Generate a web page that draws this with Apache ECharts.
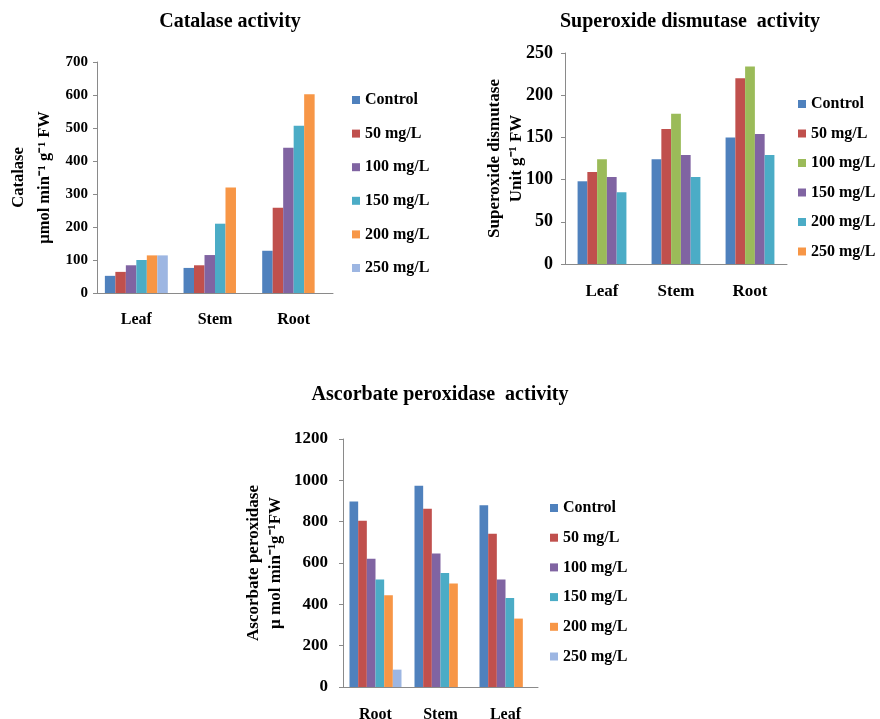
<!DOCTYPE html>
<html>
<head>
<meta charset="utf-8">
<script src="https://cdn.jsdelivr.net/npm/echarts@6.0.0/dist/echarts.min.js"></script>
<style>
  html, body { margin: 0; padding: 0; background: #fff; }
  .chart { position: absolute; left: 0; top: 0; width: 880px; height: 719px; }
</style>
</head>
<body>
<div id="catalase" class="chart"></div>
<div id="sod" class="chart"></div>
<div id="apx" class="chart"></div>
<script>
// data
const seriesNames = ['Control', '50 mg/L', '100 mg/L', '150 mg/L', '200 mg/L', '250 mg/L'];

const catalaseCategories = ['Leaf', 'Stem', 'Root'];
const catalaseControl = [52, 76, 128];
const catalase50 = [64, 84, 258];
const catalase100 = [84, 115, 440];
const catalase150 = [100, 210, 507];
const catalase200 = [114, 320, 602];
const catalase250 = [114, '-', '-'];
const catalaseTicks = { min: 0, max: 700, interval: 100 };

const sodCategories = ['Leaf', 'Stem', 'Root'];
const sodControl = [98, 124, 150];
const sod50 = [109, 160, 220];
const sod100 = [124, 178, 234];
const sod150 = [103, 129, 154];
const sod200 = [85, 103, 129];
const sodTicks = { min: 0, max: 250, interval: 50 };

const apxCategories = ['Root', 'Stem', 'Leaf'];
const apxControl = [898, 974, 880];
const apx50 = [804, 862, 741];
const apx100 = [620, 646, 520];
const apx150 = [520, 552, 431];
const apx200 = [444, 501, 331];
const apx250 = [84, '-', '-'];
const apxTicks = { min: 0, max: 1200, interval: 200 };

const colorsA = ['#4F81BD', '#C0504D', '#8064A2', '#4BACC6', '#F79646', '#9DB6E2'];
const colorsSod = ['#4F81BD', '#C0504D', '#9BBB59', '#8064A2', '#4BACC6', '#F79646'];

const FONT = '"Liberation Serif", "Times New Roman", serif';

function buildOption(c) {
  let series = c.values.map(function (vals, i) {
    return {
      name: seriesNames[i],
      type: 'bar',
      data: vals,
      barGap: 0,
      barCategoryGap: c.catGap,
      itemStyle: { color: c.colors[i] }
    };
  });
  let xAxes = [{
    type: 'category',
    data: c.categories,
    axisLine: { lineStyle: { color: '#8a8a8a', width: 1 } },
    axisTick: { show: false },
    axisLabel: { color: '#000', fontFamily: FONT, fontWeight: 'bold', fontSize: c.catFont, margin: c.catMargin }
  }];
  // legend-only series (no bars drawn in the group)
  if (c.extra) {
    xAxes.push({ type: 'category', data: c.categories, show: false });
    series.push({
      name: c.extra.name, type: 'bar', xAxisIndex: 1,
      data: c.categories.map(function () { return '-'; }),
      itemStyle: { color: c.extra.color }
    });
  }
  return {
    animation: false,
    graphic: [{
      type: 'text', x: c.titlePos[0], y: c.titlePos[1],
      style: { text: c.title, fill: '#000', font: 'bold ' + c.titleFont + 'px ' + FONT, textAlign: 'center', textVerticalAlign: 'middle' }
    }],
    legend: {
      orient: 'vertical',
      left: c.legendPos[0], top: c.legendPos[1],
      padding: 0,
      icon: 'rect', itemWidth: 8, itemHeight: 8, itemGap: c.legendGap,
      textStyle: { color: '#000', fontFamily: FONT, fontWeight: 'bold', fontSize: 16, lineHeight: 16 },
      data: seriesNames
    },
    grid: { left: c.grid[0], top: c.grid[1], width: c.grid[2], height: c.grid[3], containLabel: false, outerBoundsMode: 'none' },
    xAxis: xAxes,
    yAxis: {
      type: 'value',
      min: c.ticks.min, max: c.ticks.max, interval: c.ticks.interval,
      name: c.yName,
      nameLocation: 'middle',
      nameRotate: 90,
      nameGap: c.nameGap,
      nameMoveOverlap: false,
      nameTextStyle: { color: '#000', fontFamily: FONT, fontWeight: 'bold', fontSize: c.nameFont, lineHeight: c.nameLine },
      axisLine: { show: true, lineStyle: { color: '#8a8a8a', width: 1 } },
      axisTick: { show: true, length: 4, lineStyle: { color: '#8a8a8a' } },
      splitLine: { show: false },
      axisLabel: {
        color: '#000', fontFamily: FONT, fontWeight: 'bold', fontSize: c.tickFont, margin: c.tickMargin,
        formatter: function (v) { return String(v); }
      }
    },
    series: series
  };
}

const charts = [
  {
    id: 'catalase',
    title: 'Catalase activity', titlePos: [230, 22], titleFont: 20,
    categories: catalaseCategories,
    values: [catalaseControl, catalase50, catalase100, catalase150, catalase200, catalase250],
    colors: colorsA, catGap: '20%',
    ticks: catalaseTicks, tickFont: 15, tickMargin: 9, catFont: 16, catMargin: 19,
    yName: 'Catalase\nµmol min⁻¹ g⁻¹ FW', nameGap: 39, nameLine: 26, nameFont: 16.5,
    grid: [97, 62, 236, 231],
    legendPos: [352, 92], legendGap: 17.6
  },
  {
    id: 'sod',
    title: 'Superoxide dismutase  activity', titlePos: [690, 22], titleFont: 20,
    categories: sodCategories,
    values: [sodControl, sod50, sod100, sod150, sod200],
    extra: { name: '250 mg/L', color: colorsSod[5] },
    colors: colorsSod, catGap: '34%',
    ticks: sodTicks, tickFont: 18, tickMargin: 12, catFont: 17, catMargin: 19,
    yName: 'Superoxide dismutase\nUnit g⁻¹ FW', nameGap: 37, nameLine: 22, nameFont: 17,
    grid: [565, 53, 222, 211],
    legendPos: [798, 96], legendGap: 13.5
  },
  {
    id: 'apx',
    title: 'Ascorbate peroxidase  activity', titlePos: [440, 395], titleFont: 20,
    categories: apxCategories,
    values: [apxControl, apx50, apx100, apx150, apx200, apx250],
    colors: colorsA, catGap: '20%',
    ticks: apxTicks, tickFont: 17, tickMargin: 15, catFont: 16, catMargin: 20,
    yName: 'Ascorbate peroxidase\nµ mol min⁻¹g⁻¹FW', nameGap: 56, nameLine: 22, nameFont: 17,
    grid: [343, 439, 195, 248],
    legendPos: [550, 500], legendGap: 13.7
  }
];

charts.forEach(function (c) {
  let myChart = echarts.init(document.getElementById(c.id), null, { renderer: 'canvas' });
  myChart.setOption(buildOption(c));
});
</script>
</body>
</html>
